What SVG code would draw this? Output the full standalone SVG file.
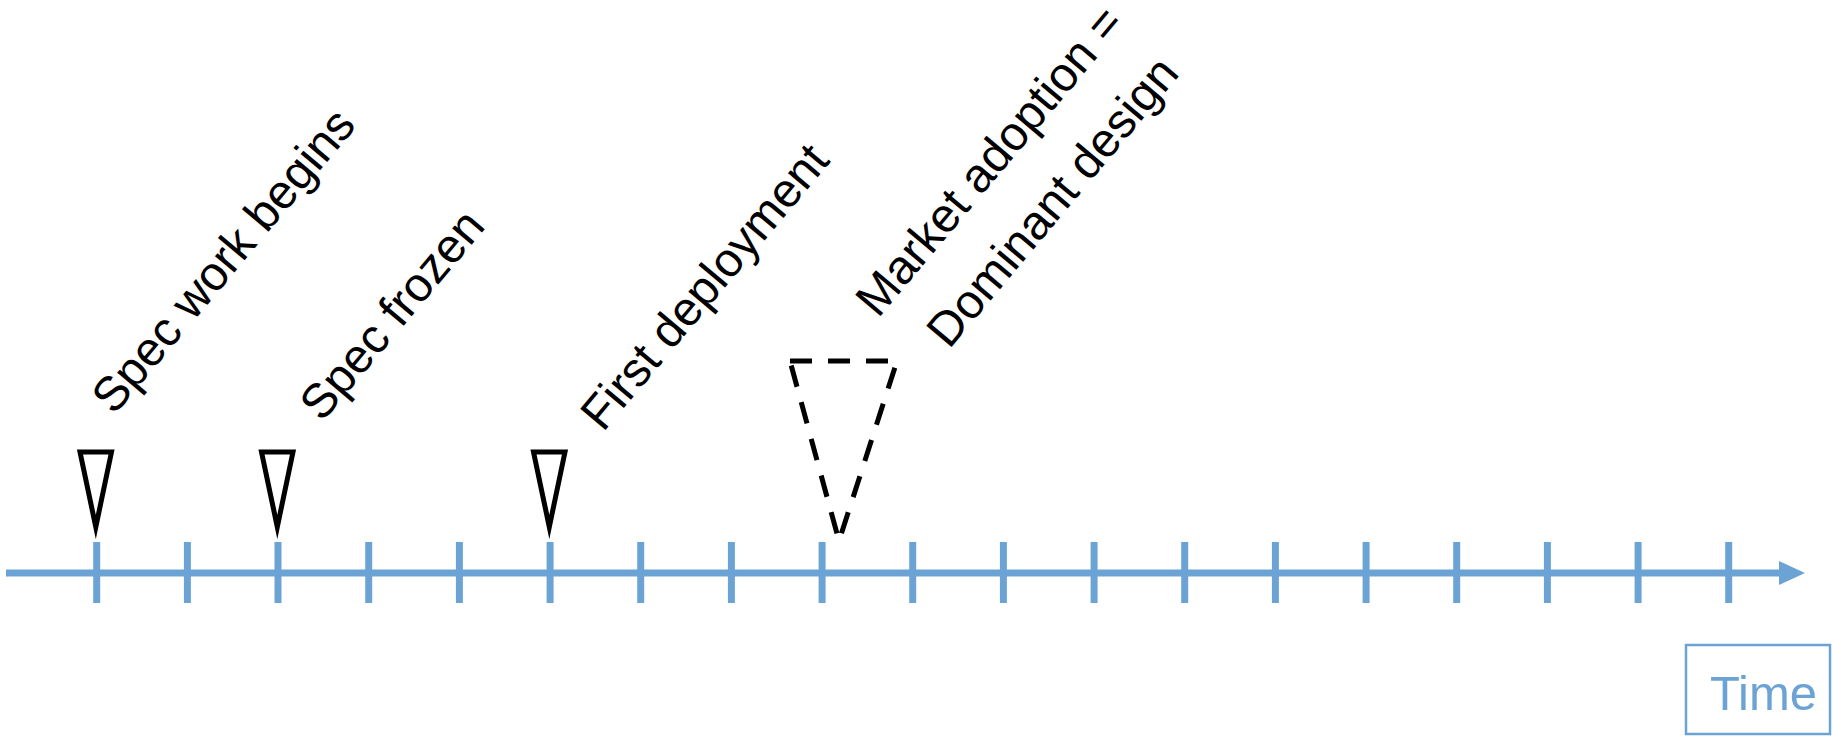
<svg xmlns="http://www.w3.org/2000/svg" width="1833" height="736" viewBox="0 0 1833 736">
  <defs>
    <style>
      .axis { stroke: #6CA3D5; stroke-width: 7; fill: none; }
      .tick { stroke: #6CA3D5; stroke-width: 7; }
      .head { fill: #6CA3D5; }
      .flag { fill: #fff; stroke: #000; stroke-width: 5; stroke-linejoin: miter; stroke-miterlimit: 12; }
      .flag-dash { fill: none; stroke: #000; stroke-width: 5; stroke-dasharray: 22 16; }
      .label { font-family: "Liberation Sans", Arial, sans-serif; font-size: 48px; fill: #000; }
      .time-box { fill: #fff; stroke: #6CA3D5; stroke-width: 2.5; }
      .time-text { font-family: "Liberation Sans", Arial, sans-serif; font-size: 49px; fill: #6CA3D5; }
    </style>
  </defs>

  <rect width="1833" height="736" fill="#fff"/>

  <!-- time axis with tick marks -->
  <g id="connectors">
    <line class="axis" x1="6" y1="573" x2="1782" y2="573"/>
    <polygon class="head" points="1779,561 1805,573 1779,585"/>
    <g id="ticks">
      <line class="tick" x1="96.7" y1="542" x2="96.7" y2="603"/>
      <line class="tick" x1="187.4" y1="542" x2="187.4" y2="603"/>
      <line class="tick" x1="278.0" y1="542" x2="278.0" y2="603"/>
      <line class="tick" x1="368.7" y1="542" x2="368.7" y2="603"/>
      <line class="tick" x1="459.4" y1="542" x2="459.4" y2="603"/>
      <line class="tick" x1="550.1" y1="542" x2="550.1" y2="603"/>
      <line class="tick" x1="640.7" y1="542" x2="640.7" y2="603"/>
      <line class="tick" x1="731.4" y1="542" x2="731.4" y2="603"/>
      <line class="tick" x1="822.1" y1="542" x2="822.1" y2="603"/>
      <line class="tick" x1="912.7" y1="542" x2="912.7" y2="603"/>
      <line class="tick" x1="1003.4" y1="542" x2="1003.4" y2="603"/>
      <line class="tick" x1="1094.1" y1="542" x2="1094.1" y2="603"/>
      <line class="tick" x1="1184.7" y1="542" x2="1184.7" y2="603"/>
      <line class="tick" x1="1275.4" y1="542" x2="1275.4" y2="603"/>
      <line class="tick" x1="1366.1" y1="542" x2="1366.1" y2="603"/>
      <line class="tick" x1="1456.7" y1="542" x2="1456.7" y2="603"/>
      <line class="tick" x1="1547.4" y1="542" x2="1547.4" y2="603"/>
      <line class="tick" x1="1638.1" y1="542" x2="1638.1" y2="603"/>
      <line class="tick" x1="1728.7" y1="542" x2="1728.7" y2="603"/>
    </g>
  </g>

  <!-- milestones -->
  <g id="spec-work-begins">
    <polygon class="flag" points="80,452 111.5,452 95.8,527"/>
    <text class="label" x="114" y="416" transform="rotate(-50 114 416)">Spec work begins</text>
  </g>

  <g id="spec-frozen">
    <polygon class="flag" points="261.5,452 293,452 277.3,527"/>
    <text class="label" x="322" y="423" transform="rotate(-50 322 423)">Spec frozen</text>
  </g>

  <g id="first-deployment">
    <polygon class="flag" points="533.5,452 565,452 549.3,527"/>
    <text class="label" x="603" y="433" transform="rotate(-50 603 433)">First deployment</text>
  </g>

  <g id="market-adoption">
    <polygon class="flag-dash" points="790,361 897,361 839,541"/>
    <text class="label" x="878" y="319" transform="rotate(-50 878 319)">Market adoption =</text>
    <text class="label" x="949" y="350" transform="rotate(-50 949 350)">Dominant design</text>
  </g>

  <!-- axis caption -->
  <g id="time-label">
    <rect class="time-box" x="1686" y="645" width="144" height="89"/>
    <text class="time-text" x="1710" y="710">Time</text>
  </g>
</svg>
